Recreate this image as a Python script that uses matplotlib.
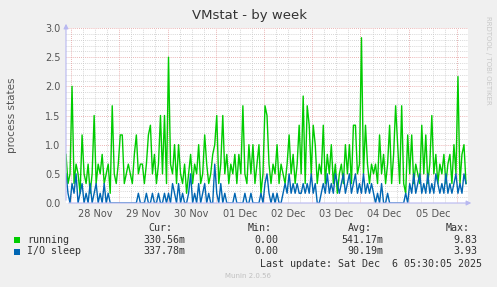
import datetime as dt
import numpy as np
import matplotlib
matplotlib.use('Agg')
import matplotlib.pyplot as plt

# hourly values, in sixths of a process (munin averages 5 min samples)
running_sixths = [
    5, 2, 3, 12, 2, 4, 3, 1, 7, 3,
    2, 4, 1, 3, 9, 2, 4, 3, 5, 2,
    3, 4, 1, 10, 3, 2, 4, 7, 7, 2,
    3, 4, 3, 2, 5, 7, 3, 4, 4, 2,
    4, 7, 8, 3, 5, 2, 4, 9, 3, 9,
    2, 15, 4, 3, 6, 2, 6, 3, 2, 4,
    1, 3, 5, 2, 4, 3, 6, 2, 3, 7,
    4, 2, 3, 5, 6, 9, 2, 4, 9, 3,
    5, 2, 4, 3, 5, 2, 5, 3, 10, 3,
    2, 6, 3, 6, 2, 4, 6, 1, 3, 10,
    9, 4, 2, 4, 3, 6, 2, 4, 3, 2,
    4, 7, 3, 5, 2, 4, 8, 3, 11, 2,
    10, 8, 3, 8, 6, 2, 4, 3, 8, 2,
    5, 3, 6, 2, 4, 1, 3, 4, 2, 6,
    3, 6, 2, 8, 8, 3, 4, 17, 3, 8,
    4, 2, 4, 3, 4, 2, 7, 3, 5, 2,
    4, 8, 2, 5, 10, 6, 2, 10, 2, 1,
    7, 3, 7, 2, 4, 3, 2, 8, 3, 7,
    2, 4, 9, 3, 5, 2, 4, 3, 5, 2,
    4, 5, 2, 6, 3, 13, 2, 5, 6, 2,
]
io_sleep_sixths = [
    3, 1, 0, 2, 1, 3, 0, 1, 2, 0,
    1, 0, 2, 0, 1, 2, 0, 1, 0, 2,
    0, 1, 0, 0, 0, 0, 0, 0, 0, 0,
    0, 0, 0, 0, 0, 0, 1, 0, 0, 0,
    1, 0, 0, 1, 0, 0, 1, 0, 0, 1,
    0, 1, 0, 2, 1, 0, 2, 0, 1, 0,
    0, 1, 3, 0, 1, 0, 2, 0, 1, 2,
    0, 1, 0, 0, 4, 1, 0, 2, 0, 1,
    0, 0, 0, 0, 1, 0, 0, 0, 0, 1,
    0, 0, 1, 0, 0, 0, 0, 1, 0, 2,
    3, 1, 0, 1, 0, 1, 0, 0, 1, 2,
    1, 3, 1, 2, 1, 2, 1, 1, 2, 1,
    2, 1, 3, 1, 2, 0, 0, 1, 2, 1,
    3, 1, 2, 1, 3, 2, 1, 2, 3, 1,
    2, 3, 1, 2, 3, 1, 2, 1, 3, 1,
    2, 1, 2, 1, 0, 1, 0, 2, 0, 0,
    1, 0, 0, 0, 0, 0, 0, 0, 0, 1,
    0, 2, 1, 3, 1, 2, 3, 1, 2, 1,
    3, 1, 2, 1, 3, 2, 1, 2, 1, 3,
    1, 2, 1, 2, 3, 1, 2, 1, 3, 2,
]

series_names = ['running', 'I/O sleep']
series_colors = ['#00CC00', '#0066B3']
cur_vals = ['330.56m', '337.78m']
min_vals = ['0.00', '0.00']
avg_vals = ['541.17m', '90.19m']
max_vals = ['9.83', '3.93']
day_labels = ['28 Nov', '29 Nov', '30 Nov', '01 Dec', '02 Dec', '03 Dec', '04 Dec', '05 Dec']

start = dt.datetime(2025, 11, 27, 21, 30)
times = [start + dt.timedelta(hours=i) for i in range(len(running_sixths))]
end = start + dt.timedelta(hours=len(running_sixths))
running = np.array(running_sixths) / 6
io_sleep = np.array(io_sleep_sixths) / 6

W, H = 497, 287
fig = plt.figure(figsize=(W / 100, H / 100), dpi=100, facecolor='#F0F0F0')
ax = fig.add_axes([66 / W, 84 / H, 402 / W, 175 / H])
ax.set_facecolor('white')
ax.set_xlim(start, end)
ax.set_ylim(0, 3.0)

# grid: red every 0.5 / midnight, grey every 0.1 / 6 h
dots = (0, (1, 1.5))
for v in np.arange(0.1, 3.01, 0.1):
    major = abs(v / 0.5 - round(v / 0.5)) < 1e-6
    ax.axhline(v, color='#E39A9A' if major else '#C8C8C8', lw=0.6, ls=dots, zorder=0)
t = dt.datetime(2025, 11, 28, 0, 0)
while t < end:
    ax.axvline(t, color='#E39A9A' if t.hour == 0 else '#C8C8C8', lw=0.6, ls=dots, zorder=0)
    t += dt.timedelta(hours=6)

ax.plot(times, running, color=series_colors[0], lw=1, zorder=2)
ax.plot(times, io_sleep, color=series_colors[1], lw=1, zorder=3)

for s in ax.spines.values():
    s.set_visible(False)

ax.set_yticks(np.arange(0, 3.01, 0.5))
ax.set_yticklabels(['%.1f' % v for v in np.arange(0, 3.01, 0.5)])
noons = [dt.datetime(2025, 11, 28, 12) + dt.timedelta(days=k) for k in range(len(day_labels))]
ax.set_xticks(noons)
ax.set_xticklabels(day_labels)
ax.tick_params(length=0, labelsize=7, colors='#555555', pad=4)

# axis arrows
arrow = dict(arrowstyle='-|>', color='#B8B8F0', lw=0.8, mutation_scale=7)
ax.annotate('', xy=(0, 1.04), xytext=(0, 0), xycoords='axes fraction', arrowprops=arrow, annotation_clip=False)
ax.annotate('', xy=(1.015, 0), xytext=(0, 0), xycoords='axes fraction', arrowprops=arrow, annotation_clip=False)

fig.text(250 / W, 1 - 15 / H, 'VMstat - by week', ha='center', va='center', fontsize=9.5, color='#333333')
fig.text(12 / W, 1 - 115 / H, 'process states', ha='center', va='center', rotation=90, fontsize=7.5, color='#555555')
fig.text(488 / W, 1 - 60 / H, 'RRDTOOL / TOBI OETIKER', ha='center', va='center', rotation=270,
         fontsize=5, color='#C8C8C8')

mono = dict(family='DejaVu Sans Mono', fontsize=7.2, color='#333333', va='center')
ys = 1 - 228 / H
for label, xr in zip(['Cur:', 'Min:', 'Avg:', 'Max:'], [172, 272, 372, 470]):
    fig.text(xr / W, ys, label, ha='right', **mono)
for k, name in enumerate(series_names):
    yy = 1 - (240 + 11.5 * k) / H
    fig.patches.append(plt.Rectangle((14 / W, yy - 3 / H), 6 / W, 6 / H, transform=fig.transFigure,
                                     facecolor=series_colors[k], edgecolor='none'))
    fig.text(27 / W, yy, name, ha='left', **mono)
    for val, xr in zip([cur_vals[k], min_vals[k], avg_vals[k], max_vals[k]], [185, 278, 383, 477]):
        fig.text(xr / W, yy, val, ha='right', **mono)
fig.text(482 / W, 1 - 264 / H, 'Last update: Sat Dec  6 05:30:05 2025', ha='right', **mono)
fig.text(248 / W, 1 - 276 / H, 'Munin 2.0.56', ha='center', va='center', fontsize=5, color='#C0C0C0')

fig.savefig('out.png', dpi=100, facecolor=fig.get_facecolor())
